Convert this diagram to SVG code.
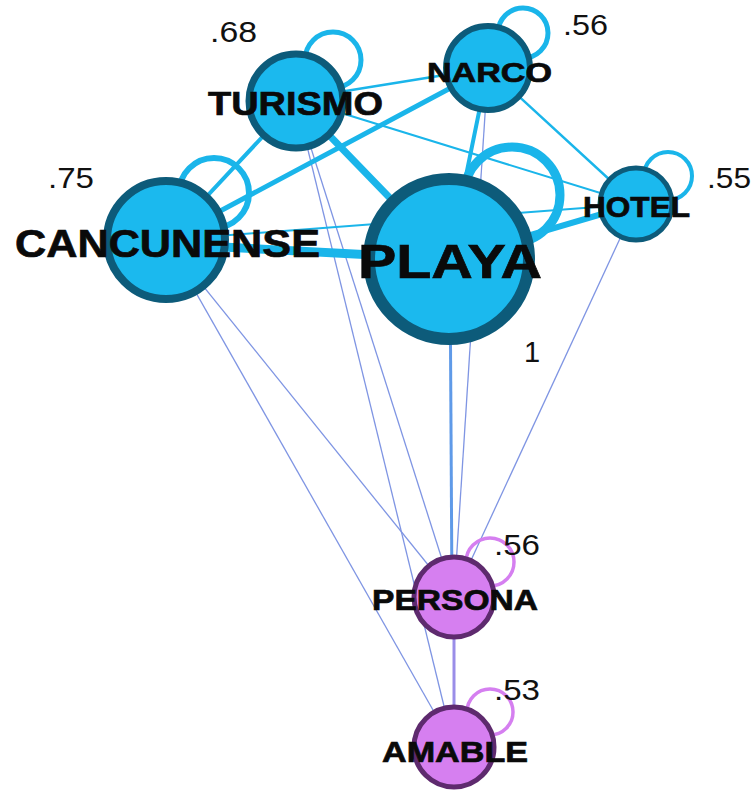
<svg xmlns="http://www.w3.org/2000/svg" width="754" height="792" viewBox="0 0 754 792">
<style>
.bg{fill:#ffffff}
.e{stroke:#1ab5ea;fill:none;stroke-linecap:round}
.t{stroke:#7f95e3;fill:none;stroke-width:1.3}
.loopb{stroke:#1ab5ea;fill:none}
.loopp{stroke:#d57ff0;fill:none;stroke-width:3.5}
.nb{fill:#1bb9ee;stroke:#0d5b7a}
.np{fill:#d67ff0;stroke:#5e2a6e;stroke-width:5}
.lab{font-family:"Liberation Sans",Arial,sans-serif;font-weight:bold;fill:#0a0a0a;stroke:#0a0a0a;stroke-width:0.7}
.num{font-family:"Liberation Sans",Arial,sans-serif;fill:#111111;font-size:29px}
</style>
<rect class="bg" x="0" y="0" width="754" height="792"/>
<g id="connectors">
  <line class="t" x1="166" y1="240" x2="454" y2="597"/>
  <line class="t" x1="166" y1="240" x2="454" y2="747"/>
  <line class="t" x1="296" y1="101" x2="454" y2="597"/>
  <line class="t" x1="296" y1="101" x2="454" y2="747"/>
  <line class="t" x1="488" y1="68" x2="454" y2="597"/>
  <line class="t" x1="636" y1="204" x2="454" y2="597"/>
  <line x1="450" y1="259" x2="452" y2="597" stroke="#5f9ae8" stroke-width="3"/>
  <line x1="454" y1="597" x2="454" y2="747" stroke="#9a8ee8" stroke-width="3"/>
  <line class="e" x1="166" y1="240" x2="636" y2="204" stroke-width="2"/>
  <line class="e" x1="296" y1="99" x2="636" y2="204" stroke-width="2"/>
  <line class="e" x1="296" y1="99" x2="488" y2="68" stroke-width="2.5"/>
  <line class="e" x1="488" y1="68" x2="636" y2="204" stroke-width="2.5"/>
  <line class="e" x1="488" y1="68" x2="449" y2="259" stroke-width="4"/>
  <line class="e" x1="166" y1="240" x2="296" y2="101" stroke-width="4"/>
  <line class="e" x1="166" y1="240" x2="488" y2="68" stroke-width="5"/>
  <line class="e" x1="296" y1="101" x2="449" y2="259" stroke-width="7"/>
  <line class="e" x1="449" y1="259" x2="636" y2="204" stroke-width="6"/>
  <line class="e" x1="166" y1="244" x2="449" y2="259" stroke-width="9"/>
  <circle class="loopb" cx="214" cy="193" r="35" stroke-width="6"/>
  <circle class="loopb" cx="333" cy="60" r="28" stroke-width="5"/>
  <circle class="loopb" cx="523" cy="33" r="25" stroke-width="5"/>
  <circle class="loopb" cx="512" cy="195" r="48" stroke-width="9"/>
  <circle class="loopb" cx="668" cy="176" r="24" stroke-width="4"/>
  <circle class="loopp" cx="490" cy="562" r="24"/>
  <circle class="loopp" cx="490" cy="712" r="23"/>
</g>
<g id="node-cancunense">
  <circle class="nb" cx="166" cy="240" r="59" stroke-width="8"/>
  <text class="lab" x="15" y="257" font-size="39" textLength="305" lengthAdjust="spacingAndGlyphs">CANCUNENSE</text>
  <text class="num" x="48" y="188" textLength="46" lengthAdjust="spacingAndGlyphs">.75</text>
</g>
<g id="node-turismo">
  <circle class="nb" cx="296" cy="101" r="47" stroke-width="7"/>
  <text class="lab" x="208" y="115" font-size="34" textLength="175" lengthAdjust="spacingAndGlyphs">TURISMO</text>
  <text class="num" x="210" y="42" textLength="47" lengthAdjust="spacingAndGlyphs">.68</text>
</g>
<g id="node-narco">
  <circle class="nb" cx="488" cy="68" r="42" stroke-width="6"/>
  <text class="lab" x="427" y="82" font-size="28" textLength="125" lengthAdjust="spacingAndGlyphs">NARCO</text>
  <text class="num" x="563" y="35" textLength="45" lengthAdjust="spacingAndGlyphs">.56</text>
</g>
<g id="node-playa">
  <circle class="nb" cx="449" cy="259" r="80" stroke-width="12"/>
  <text class="lab" x="358" y="278" font-size="49" textLength="184" lengthAdjust="spacingAndGlyphs">PLAYA</text>
  <text class="num" x="524" y="362">1</text>
</g>
<g id="node-hotel">
  <circle class="nb" cx="636" cy="204" r="36" stroke-width="5"/>
  <text class="lab" x="583" y="217" font-size="30" textLength="107" lengthAdjust="spacingAndGlyphs">HOTEL</text>
  <text class="num" x="707" y="188" textLength="44" lengthAdjust="spacingAndGlyphs">.55</text>
</g>
<g id="node-persona">
  <circle class="np" cx="454" cy="597" r="40"/>
  <text class="lab" x="372" y="610" font-size="30" textLength="166" lengthAdjust="spacingAndGlyphs">PERSONA</text>
  <text class="num" x="494" y="555" textLength="46" lengthAdjust="spacingAndGlyphs">.56</text>
</g>
<g id="node-amable">
  <circle class="np" cx="454" cy="747" r="40"/>
  <text class="lab" x="382" y="762" font-size="30" textLength="146" lengthAdjust="spacingAndGlyphs">AMABLE</text>
  <text class="num" x="494" y="700" textLength="46" lengthAdjust="spacingAndGlyphs">.53</text>
</g>
</svg>
